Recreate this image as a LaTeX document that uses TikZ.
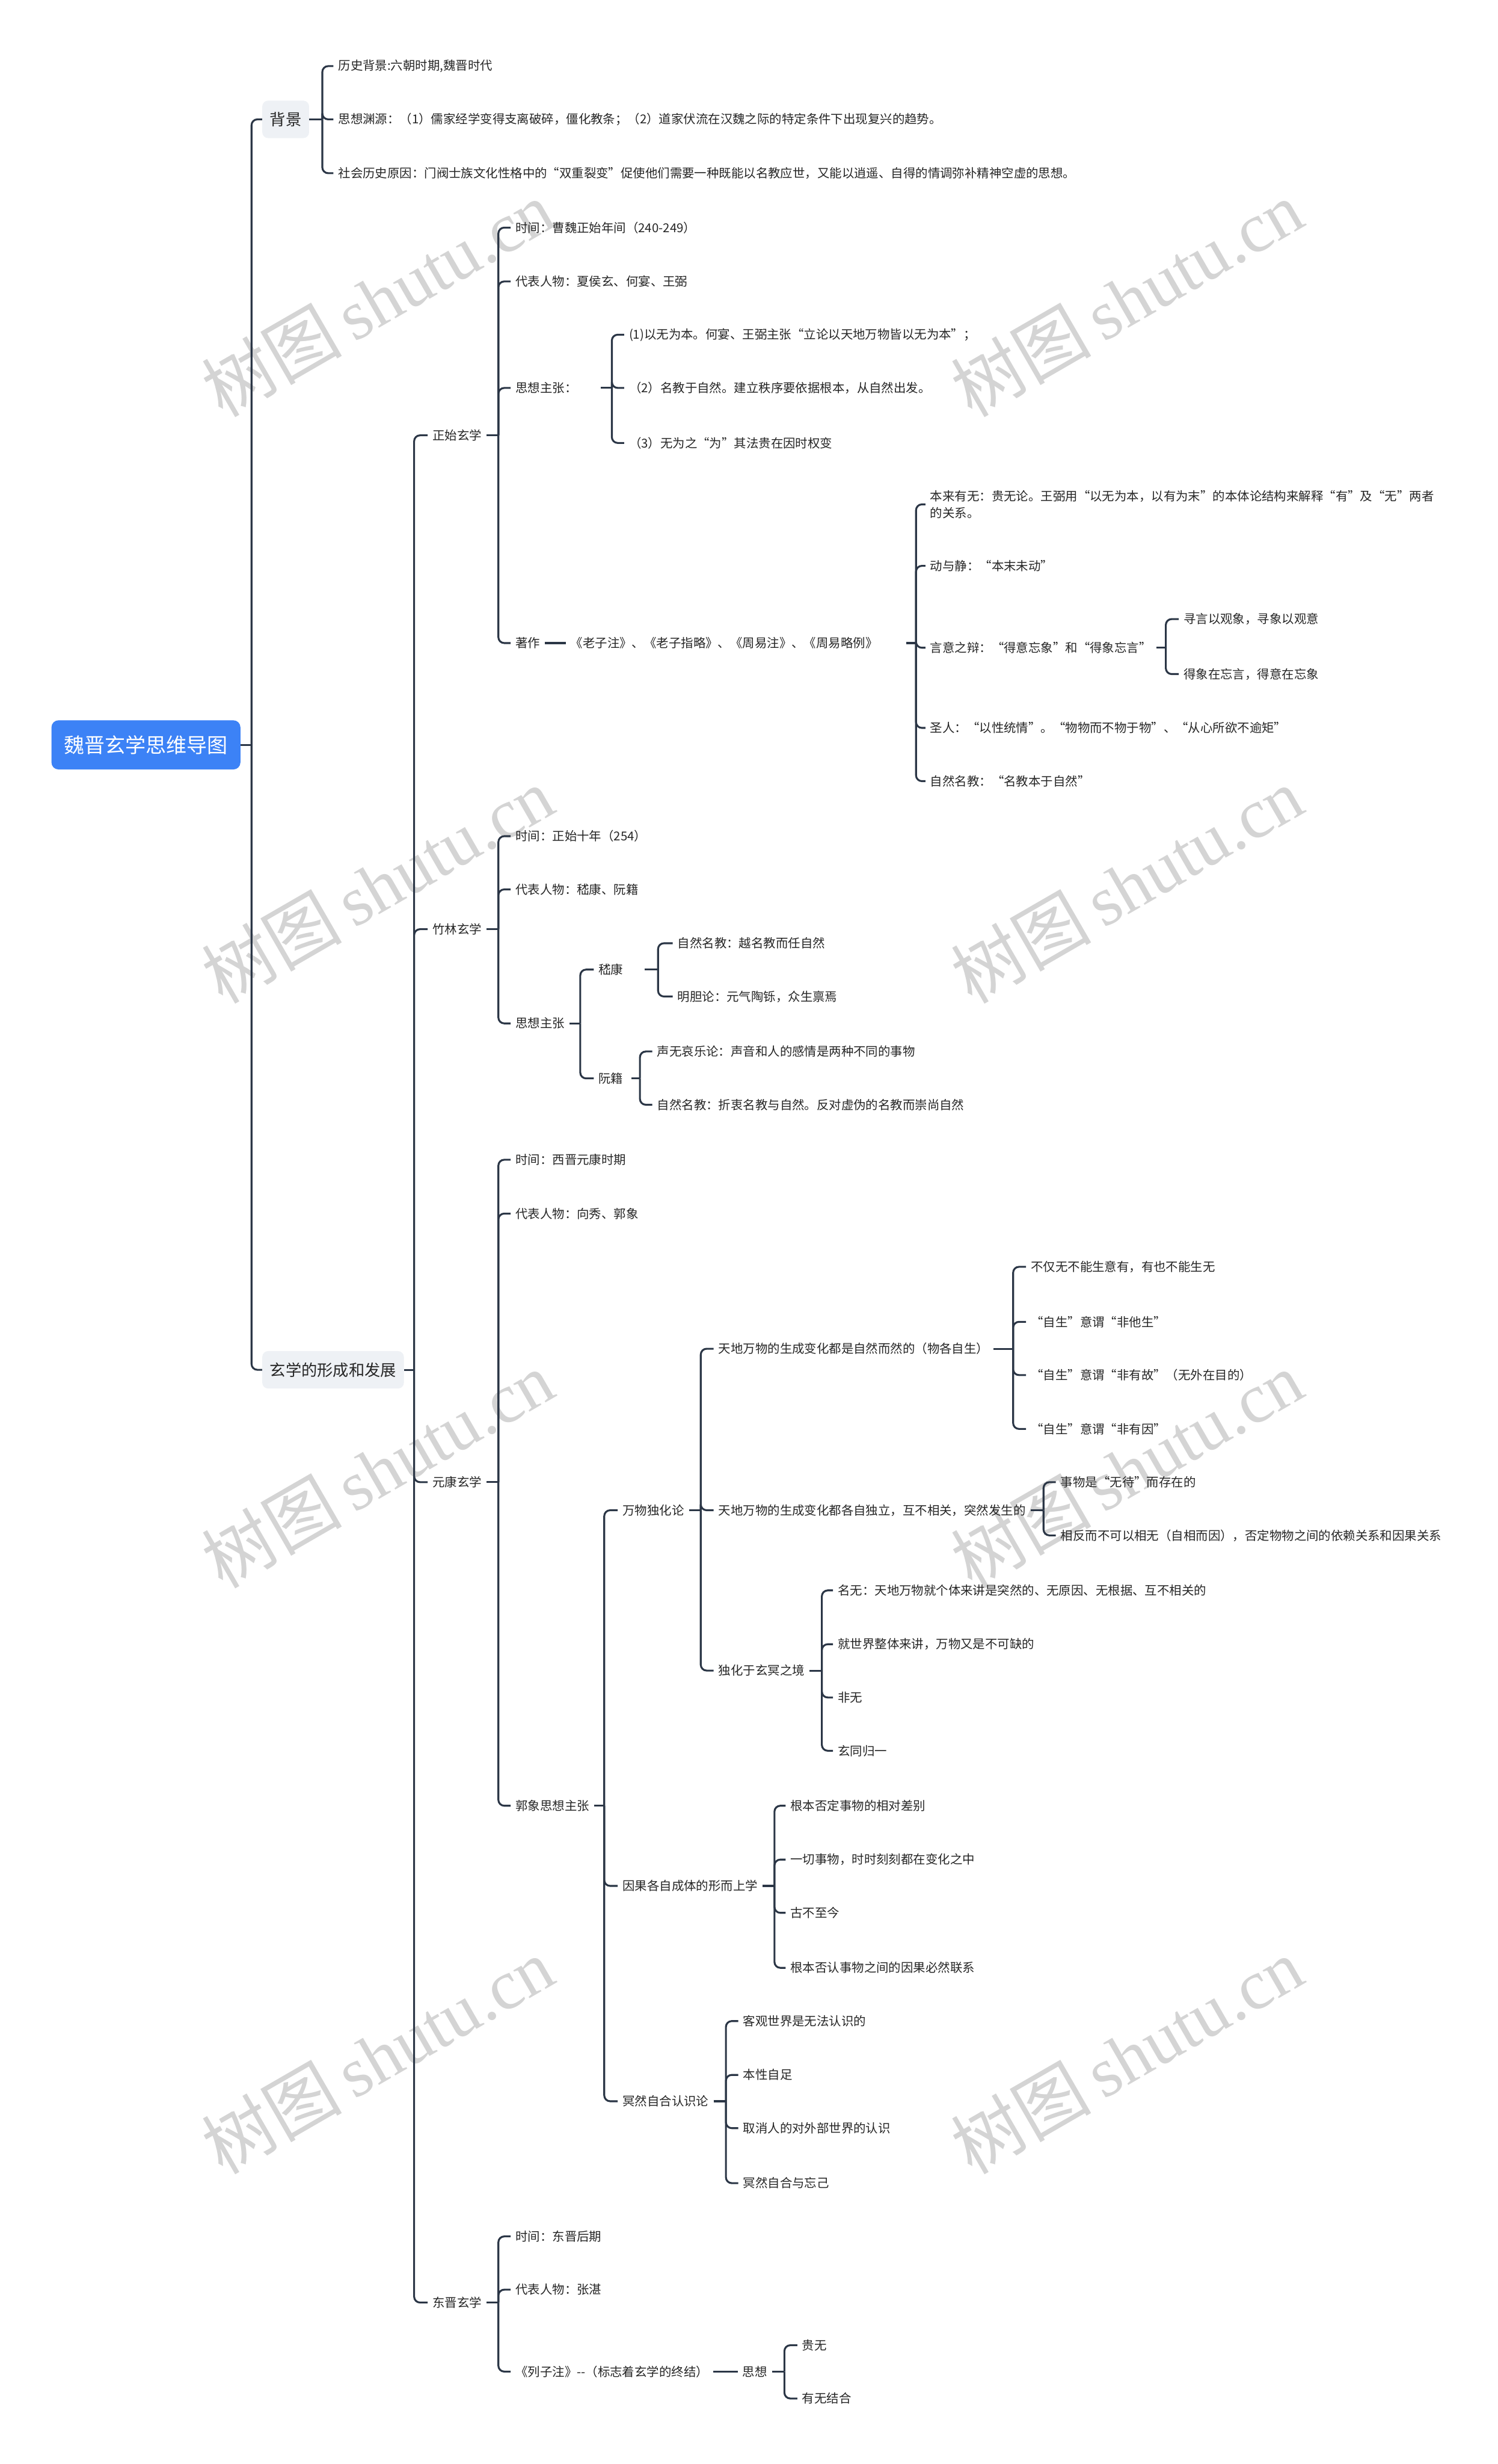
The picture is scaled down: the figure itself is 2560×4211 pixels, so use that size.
\documentclass[tikz,border=0pt]{standalone}
\usepackage{fontspec}
\setmainfont{Noto Sans CJK SC}
\newfontfamily\wmserif{Liberation Serif}
\definecolor{lc}{HTML}{2B3646}
\definecolor{rootblue}{HTML}{3C82F6}
\definecolor{lvbg}{HTML}{EEF1F5}
\definecolor{wmgray}{HTML}{D4D4D4}
\tikzset{
  conn/.style={draw=lc, line width=1.6pt, rounded corners=5pt},
  leaf/.style={anchor=west, inner xsep=4pt, inner ysep=2pt, text=black!85,
    font=\fontsize{10.5}{14.5}\selectfont},
  lvone/.style={anchor=west, fill=lvbg, rounded corners=5pt, inner xsep=6.5pt,
    minimum height=32pt, text=black!85, font=\fontsize{13.5}{16}\selectfont},
  rootbox/.style={fill=rootblue, text=white, rounded corners=6pt, inner xsep=10pt,
    minimum height=42pt, minimum width=161.5pt, font=\fontsize{17.5}{20}\selectfont},
  wm/.style={text=wmgray, rotate=30, font=\fontsize{60}{60}\selectfont}
}
\begin{document}
\begin{tikzpicture}[x=0.5pt, y=-0.5pt]
\useasboundingbox (0,0) rectangle (2560,4211);
\fill[white] (0,0) rectangle (2560,4211);

% watermarks
\foreach \wx/\wy [count=\i] in {645/510,1926/510,645/1512,1926/1512,645/2511,1926/2511,645/3513,1926/3513}
  \node[wm] (wm\i) at (\wx,\wy) {树图\,{\wmserif shutu.cn}};

% root
\node[rootbox] (root) at (249.5,1273) {魏晋玄学思维导图};
\coordinate (s0) at (430,1273);
\node[lvone] (bj) at (448,204) {背景};
\node[lvone] (fz) at (448,2341) {玄学的形成和发展};
\draw[conn] (root.east) -- (s0);
\draw[conn] (s0) |- (bj.west);
\draw[conn] (s0) |- (fz.west);

% background
\coordinate (b1) at (551,204);
\node[leaf] (bj1) at (570,113) {历史背景:六朝时期,魏晋时代};
\node[leaf] (bj2) at (570,204) {思想渊源：（1）儒家经学变得支离破碎，僵化教条；（2）道家伏流在汉魏之际的特定条件下出现复兴的趋势。};
\node[leaf] (bj3) at (570,296) {社会历史原因：门阀士族文化性格中的“双重裂变”促使他们需要一种既能以名教应世，又能以逍遥、自得的情调弥补精神空虚的思想。};
\draw[conn] (bj.east) -- (b1);
\foreach \n in {bj1,bj2,bj3} \draw[conn] (b1) |- (\n.west);

% level 2
\coordinate (b2) at (708,2341);
\node[leaf] (zs) at (731,744) {正始玄学};
\node[leaf] (zl) at (731,1588) {竹林玄学};
\node[leaf] (yk) at (731,2533) {元康玄学};
\node[leaf] (dj) at (731,3935) {东晋玄学};
\draw[conn] (fz.east) -- (b2);
\foreach \n in {zs,zl,yk,dj} \draw[conn] (b2) |- (\n.west);

% zhengshi
\coordinate (b3) at (852,744);
\node[leaf] (zs1) at (873,389) {时间：曹魏正始年间（240-249）};
\node[leaf] (zs2) at (873,481) {代表人物：夏侯玄、何宴、王弼};
\node[leaf] (zs3) at (873,663) {思想主张：\hspace*{16pt}};
\node[leaf] (zs4) at (873,1099) {著作};
\draw[conn] (zs.east) -- (b3);
\foreach \n in {zs1,zs2,zs3,zs4} \draw[conn] (b3) |- (\n.west);

\coordinate (b4) at (1046,663);
\node[leaf] (zs31) at (1067,572) {(1)以无为本。何宴、王弼主张“立论以天地万物皆以无为本”；};
\node[leaf] (zs32) at (1067,663) {（2）名教于自然。建立秩序要依据根本，从自然出发。};
\node[leaf] (zs33) at (1067,757) {（3）无为之“为”其法贵在因时权变};
\draw[conn] (zs3.east) -- (b4);
\foreach \n in {zs31,zs32,zs33} \draw[conn] (b4) |- (\n.west);

\node[leaf] (lz) at (967,1099) {《老子注》、《老子指略》、《周易注》、《周易略例》\hspace*{20pt}};
\draw[conn] (zs4.east) -- (lz.west);
\coordinate (b5) at (1566,1099);
\node[leaf, align=left] (lz1) at (1582,862) {本来有无：贵无论。王弼用“以无为本，以有为末”的本体论结构来解释“有”及“无”两者\\的关系。};
\node[leaf] (lz2) at (1582,967) {动与静：“本末未动”};
\node[leaf] (lz3) at (1582,1107) {言意之辩：“得意忘象”和“得象忘言”};
\node[leaf] (lz4) at (1582,1244) {圣人：“以性统情”。“物物而不物于物”、“从心所欲不逾矩”};
\node[leaf] (lz5) at (1582,1335) {自然名教：“名教本于自然”};
\draw[conn] (lz.east) -- (b5);
\foreach \n in {lz1,lz2,lz3,lz4,lz5} \draw[conn] (b5) |- (\n.west);

\coordinate (b6) at (1993,1107);
\node[leaf] (lz31) at (2015,1058) {寻言以观象，寻象以观意};
\node[leaf] (lz32) at (2015,1152) {得象在忘言，得意在忘象};
\draw[conn] (lz3.east) -- (b6);
\foreach \n in {lz31,lz32} \draw[conn] (b6) |- (\n.west);

% zhulin
\coordinate (b7) at (852,1588);
\node[leaf] (zl1) at (873,1429) {时间：正始十年（254）};
\node[leaf] (zl2) at (873,1520) {代表人物：嵇康、阮籍};
\node[leaf] (zl3) at (873,1749) {思想主张};
\draw[conn] (zl.east) -- (b7);
\foreach \n in {zl1,zl2,zl3} \draw[conn] (b7) |- (\n.west);

\coordinate (b8) at (992,1749);
\node[leaf] (zl31) at (1015,1657) {嵇康\hspace*{14pt}};
\node[leaf] (zl32) at (1015,1843) {阮籍\hspace*{3pt}};
\draw[conn] (zl3.east) -- (b8);
\foreach \n in {zl31,zl32} \draw[conn] (b8) |- (\n.west);

\coordinate (b9) at (1125,1657);
\node[leaf] (zl311) at (1150,1612) {自然名教：越名教而任自然};
\node[leaf] (zl312) at (1150,1703) {明胆论：元气陶铄，众生禀焉};
\draw[conn] (zl31.east) -- (b9);
\foreach \n in {zl311,zl312} \draw[conn] (b9) |- (\n.west);

\coordinate (b10) at (1094,1843);
\node[leaf] (zl321) at (1115,1797) {声无哀乐论：声音和人的感情是两种不同的事物};
\node[leaf] (zl322) at (1115,1888) {自然名教：折衷名教与自然。反对虚伪的名教而崇尚自然};
\draw[conn] (zl32.east) -- (b10);
\foreach \n in {zl321,zl322} \draw[conn] (b10) |- (\n.west);

% yuankang
\coordinate (b11) at (852,2533);
\node[leaf] (yk1) at (873,1982) {时间：西晋元康时期};
\node[leaf] (yk2) at (873,2074) {代表人物：向秀、郭象};
\node[leaf] (yk3) at (873,3086) {郭象思想主张};
\draw[conn] (yk.east) -- (b11);
\foreach \n in {yk1,yk2,yk3} \draw[conn] (b11) |- (\n.west);

\coordinate (b12) at (1033,3086);
\node[leaf] (g1) at (1056,2581) {万物独化论};
\node[leaf] (g2) at (1056,3223) {因果各自成体的形而上学};
\node[leaf] (g3) at (1056,3591) {冥然自合认识论};
\draw[conn] (yk3.east) -- (b12);
\foreach \n in {g1,g2,g3} \draw[conn] (b12) |- (\n.west);

\coordinate (b13) at (1198,2581);
\node[leaf] (g11) at (1220,2305) {天地万物的生成变化都是自然而然的（物各自生）};
\node[leaf] (g12) at (1220,2581) {天地万物的生成变化都各自独立，互不相关，突然发生的};
\node[leaf] (g13) at (1220,2855) {独化于玄冥之境};
\draw[conn] (g1.east) -- (b13);
\foreach \n in {g11,g12,g13} \draw[conn] (b13) |- (\n.west);

\coordinate (b14) at (1732,2305);
\node[leaf] (g111) at (1754,2165) {不仅无不能生意有，有也不能生无};
\node[leaf] (g112) at (1754,2259) {“自生”意谓“非他生”};
\node[leaf] (g113) at (1754,2350) {“自生”意谓“非有故”（无外在目的）};
\node[leaf] (g114) at (1754,2442) {“自生”意谓“非有因”};
\draw[conn] (g11.east) -- (b14);
\foreach \n in {g111,g112,g113,g114} \draw[conn] (b14) |- (\n.west);

\coordinate (b15) at (1784,2581);
\node[leaf] (g121) at (1805,2533) {事物是“无待”而存在的};
\node[leaf] (g122) at (1805,2624) {相反而不可以相无（自相而因），否定物物之间的依赖关系和因果关系};
\draw[conn] (g12.east) -- (b15);
\foreach \n in {g121,g122} \draw[conn] (b15) |- (\n.west);

\coordinate (b16) at (1405,2855);
\node[leaf] (g131) at (1424,2718) {名无：天地万物就个体来讲是突然的、无原因、无根据、互不相关的};
\node[leaf] (g132) at (1424,2810) {就世界整体来讲，万物又是不可缺的};
\node[leaf] (g133) at (1424,2901) {非无};
\node[leaf] (g134) at (1424,2992) {玄同归一};
\draw[conn] (g13.east) -- (b16);
\foreach \n in {g131,g132,g133,g134} \draw[conn] (b16) |- (\n.west);

\coordinate (b17) at (1324,3223);
\node[leaf] (g21) at (1343,3086) {根本否定事物的相对差别};
\node[leaf] (g22) at (1343,3178) {一切事物，时时刻刻都在变化之中};
\node[leaf] (g23) at (1343,3269) {古不至今};
\node[leaf] (g24) at (1343,3363) {根本否认事物之间的因果必然联系};
\draw[conn] (g2.east) -- (b17);
\foreach \n in {g21,g22,g23,g24} \draw[conn] (b17) |- (\n.west);

\coordinate (b18) at (1241,3591);
\node[leaf] (g31) at (1262,3454) {客观世界是无法认识的};
\node[leaf] (g32) at (1262,3546) {本性自足};
\node[leaf] (g33) at (1262,3637) {取消人的对外部世界的认识};
\node[leaf] (g34) at (1262,3731) {冥然自合与忘己};
\draw[conn] (g3.east) -- (b18);
\foreach \n in {g31,g32,g33,g34} \draw[conn] (b18) |- (\n.west);

% dongjin
\coordinate (b19) at (852,3935);
\node[leaf] (dj1) at (873,3822) {时间：东晋后期};
\node[leaf] (dj2) at (873,3913) {代表人物：张湛};
\node[leaf] (dj3) at (873,4053) {《列子注》-{}-（标志着玄学的终结）};
\draw[conn] (dj.east) -- (b19);
\foreach \n in {dj1,dj2,dj3} \draw[conn] (b19) |- (\n.west);

\node[leaf] (sx) at (1261,4053) {思想};
\draw[conn] (dj3.east) -- (sx.west);
\coordinate (b20) at (1341,4053);
\node[leaf] (sx1) at (1363,4008) {贵无};
\node[leaf] (sx2) at (1363,4099) {有无结合};
\draw[conn] (sx.east) -- (b20);
\foreach \n in {sx1,sx2} \draw[conn] (b20) |- (\n.west);
\end{tikzpicture}
\end{document}
